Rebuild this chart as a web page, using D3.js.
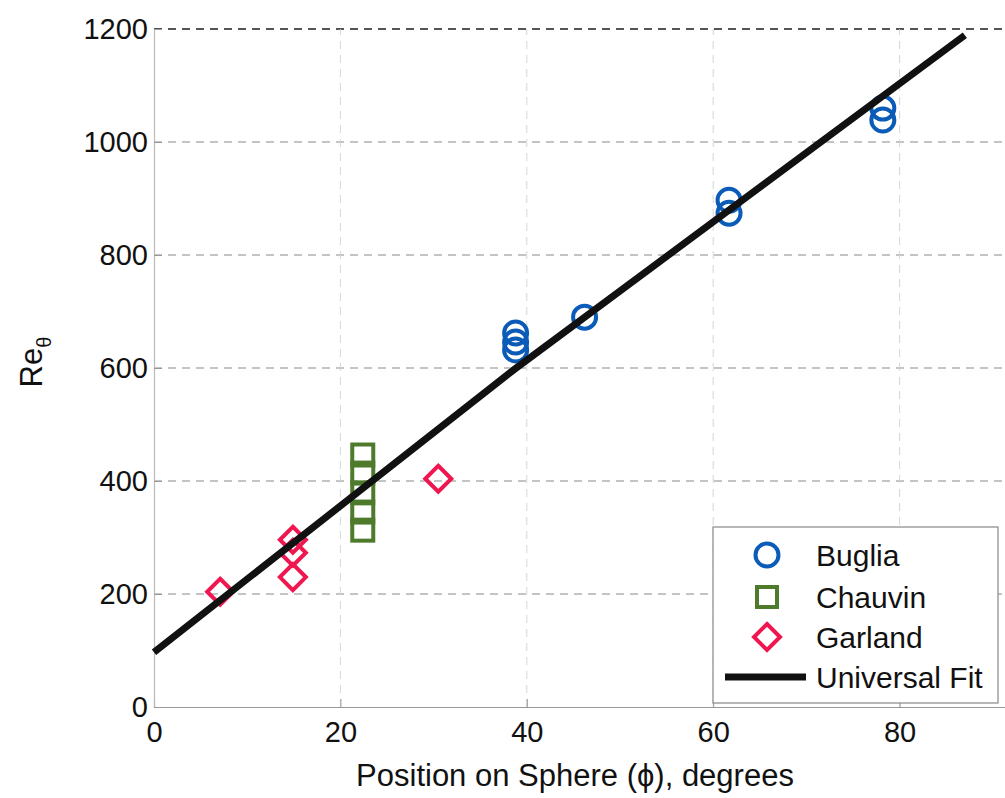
<!DOCTYPE html>
<html><head><meta charset="utf-8">
<script src="https://cdn.jsdelivr.net/npm/d3@7"></script>
<style>body{margin:0;background:#fff} text{font-family:"Liberation Sans",Arial,Helvetica,sans-serif;fill:#111}</style>
</head><body><svg id="c" width="1005" height="798"></svg>
<script>
const xTicks=[0,20,40,60,80];
const yTicks=[0,200,400,600,800,1000,1200];
const bugliaX=[38.8,38.8,38.8,46.2,61.7,61.7,78.2,78.2];
const bugliaY=[662,646,632,690,897,874,1060,1039];
const chauvinX=[22.4,22.4,22.4,22.4,22.4];
const chauvinY=[446,414,379,345,313];
const garlandX=[7.1,14.9,14.9,14.9,30.5];
const garlandY=[204,296,273,230,404];
const fitX=[0,38.7,87.0];
const fitY=[97,598,1189];
const legendLabels=["Buglia","Chauvin","Garland","Universal Fit"];

const colors={b:"#0b5cb8",c:"#4e7b2b",g:"#f0164f"};
const svg=d3.select("#c");
const x=d3.scaleLinear().domain([0,100]).range([154,1086]);
const y=d3.scaleLinear().domain([0,1200]).range([707,29]);

// grid
svg.append("g").selectAll("line").data(yTicks.filter(d=>d>0)).join("line")
  .attr("x1",x(0)).attr("x2",x(100)).attr("y1",d=>y(d)).attr("y2",d=>y(d))
  .attr("stroke",d=>d===1200?"#555":"#8a8a8a").attr("stroke-width",d=>d===1200?2:1.2).attr("stroke-dasharray","8,6");
svg.append("g").selectAll("line").data(xTicks.filter(d=>d>0)).join("line")
  .attr("y1",y(0)).attr("y2",y(1200)).attr("x1",d=>x(d)).attr("x2",d=>x(d))
  .attr("stroke","#d6d6d6").attr("stroke-width",1).attr("stroke-dasharray","8,6");

// axes
const xa=svg.append("g").attr("transform",`translate(0,${y(0)})`)
  .call(d3.axisBottom(x).tickValues(xTicks).tickSize(-8).tickPadding(14).tickFormat(d3.format("d")));
const ya=svg.append("g").attr("transform",`translate(${x(0)},0)`)
  .call(d3.axisLeft(y).tickValues(yTicks).tickSize(-8).tickPadding(6).tickFormat(d3.format("d")));
[xa,ya].forEach(a=>{a.selectAll("text").attr("font-size",29).style("font-family","Liberation Sans, Arial, sans-serif").attr("fill","#111");
  a.select(".domain").attr("stroke","#999").attr("stroke-width",1.2);
  a.selectAll(".tick line").attr("stroke","#999");});
ya.select(".domain").attr("stroke","#bbb");

// markers
const g=svg.append("g");
g.selectAll("circle.b").data(bugliaX.map((d,i)=>[d,bugliaY[i]])).join("circle").attr("class","b")
  .attr("cx",d=>x(d[0])).attr("cy",d=>y(d[1])).attr("r",11.5)
  .attr("fill","none").attr("stroke",colors.b).attr("stroke-width",4);
g.selectAll("rect.c").data(chauvinX.map((d,i)=>[d,chauvinY[i]])).join("rect").attr("class","c")
  .attr("x",d=>x(d[0])-10.5).attr("y",d=>y(d[1])-10.5).attr("width",21).attr("height",21)
  .attr("fill","none").attr("stroke",colors.c).attr("stroke-width",4);
const dia=(cx,cy,h)=>`M${cx},${cy-h}L${cx+h},${cy}L${cx},${cy+h}L${cx-h},${cy}Z`;
g.selectAll("path.g").data(garlandX.map((d,i)=>[d,garlandY[i]])).join("path").attr("class","g")
  .attr("d",d=>dia(x(d[0]),y(d[1]),13))
  .attr("fill","none").attr("stroke",colors.g).attr("stroke-width",4);

// fit line
svg.append("path").datum(fitX.map((d,i)=>[d,fitY[i]]))
  .attr("d",d3.line().x(d=>x(d[0])).y(d=>y(d[1])))
  .attr("fill","none").attr("stroke","#111").attr("stroke-width",7).attr("stroke-linecap","butt");

// axis titles
svg.append("text").attr("x",575).attr("y",786).attr("text-anchor","middle").attr("font-size",31)
  .text("Position on Sphere (ϕ), degrees");
const yt=svg.append("text").attr("transform","translate(42,362) rotate(-90)").attr("text-anchor","middle").attr("font-size",31);
yt.append("tspan").text("Re");
yt.append("tspan").attr("font-size",20).attr("dy",9).text("θ");

// legend
const L=svg.append("g");
L.append("rect").attr("x",713).attr("y",527).attr("width",285).attr("height",176)
  .attr("fill","#fff").attr("stroke","#888").attr("stroke-width",1.2);
const rows=[555,597,637,677];
L.append("circle").attr("cx",767).attr("cy",rows[0]).attr("r",11.5).attr("fill","none").attr("stroke",colors.b).attr("stroke-width",4);
L.append("rect").attr("x",757).attr("y",rows[1]-10).attr("width",20).attr("height",20).attr("fill","none").attr("stroke",colors.c).attr("stroke-width",4);
L.append("path").attr("d",dia(767,rows[2],13)).attr("fill","none").attr("stroke",colors.g).attr("stroke-width",4);
L.append("line").attr("x1",725).attr("x2",806).attr("y1",rows[3]).attr("y2",rows[3]).attr("stroke","#111").attr("stroke-width",7);
L.selectAll("text").data(legendLabels).join("text").attr("x",816).attr("y",(d,i)=>rows[i]+11)
  .attr("font-size",30).text(d=>d);
</script></body></html>
